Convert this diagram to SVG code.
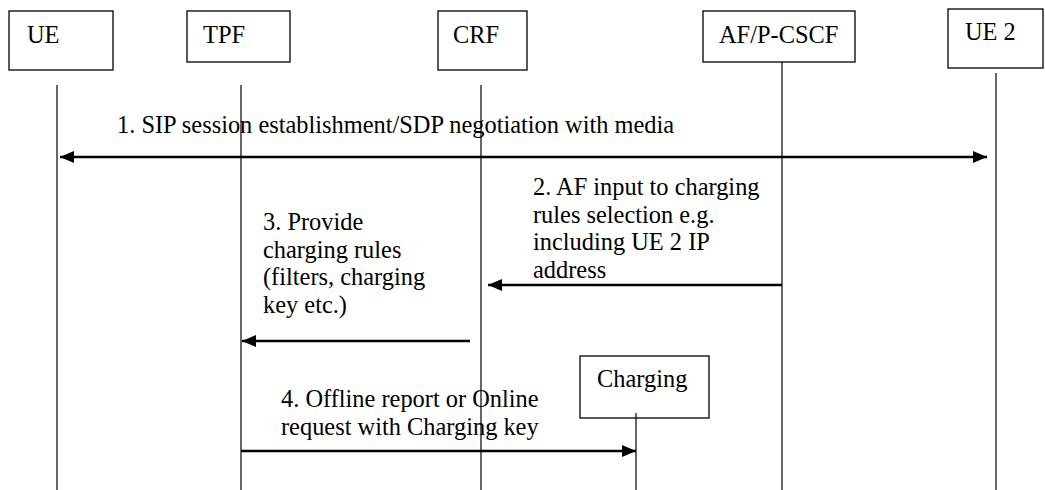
<svg xmlns="http://www.w3.org/2000/svg" width="1045" height="490" viewBox="0 0 1045 490">
<defs>
<marker id="ah" viewBox="0 0 14 12" refX="14" refY="6" markerWidth="14" markerHeight="12" markerUnits="userSpaceOnUse" orient="auto-start-reverse">
<path d="M0,0 L14,6 L0,12 Z" fill="#000"/>
</marker>
<style>
text{font-family:"Liberation Serif","Times New Roman",serif;font-size:24.4px;fill:#000}
.box{fill:#fff;stroke:#000;stroke-width:1.3}
.life{stroke:#000;stroke-width:1.2;fill:none}
.msg{stroke:#000;stroke-width:2.6;fill:none}
</style>
</defs>
<rect width="1045" height="490" fill="#fff"/>
<g id="node-ue">
<rect class="box" x="9" y="11" width="104" height="59"/>
<text x="27" y="43">UE</text>
<line class="life" x1="57" y1="85" x2="57" y2="490"/>
</g>
<g id="node-tpf">
<rect class="box" x="187" y="11" width="103" height="51"/>
<text x="203" y="43">TPF</text>
<line class="life" x1="241" y1="85" x2="241" y2="490"/>
</g>
<g id="node-crf">
<rect class="box" x="438" y="11" width="89" height="59"/>
<text x="453" y="43">CRF</text>
<line class="life" x1="481" y1="85" x2="481" y2="490"/>
</g>
<g id="node-af">
<rect class="box" x="703" y="11" width="152" height="51"/>
<text x="719" y="43">AF/P-CSCF</text>
<line class="life" x1="782" y1="62" x2="782" y2="490"/>
</g>
<g id="node-ue2">
<rect class="box" x="948" y="9" width="95" height="59"/>
<text x="965" y="40">UE 2</text>
<line class="life" x1="996" y1="73" x2="996" y2="490"/>
</g>
<g id="node-charging">
<rect class="box" x="580" y="356" width="129" height="62"/>
<text x="597" y="387">Charging</text>
<line class="life" x1="636" y1="413" x2="636" y2="490"/>
</g>
<g id="connectors">
<line class="msg" x1="60" y1="157" x2="987" y2="157" marker-start="url(#ah)" marker-end="url(#ah)"/>
<line class="msg" x1="782" y1="285" x2="488" y2="285" marker-end="url(#ah)"/>
<line class="msg" x1="470" y1="341" x2="242" y2="341" marker-end="url(#ah)"/>
<line class="msg" x1="241" y1="451" x2="636" y2="451" marker-end="url(#ah)"/>
</g>
<g id="labels">
<text x="117" y="133">1. SIP session establishment/SDP negotiation with media</text>
<text x="533" y="195">2. AF input to charging</text>
<text x="533" y="222.6">rules selection e.g.</text>
<text x="533" y="250.2">including UE 2 IP</text>
<text x="533" y="277.8">address</text>
<text x="263" y="230">3. Provide</text>
<text x="263" y="257.6">charging rules</text>
<text x="263" y="285.2">(filters, charging</text>
<text x="263" y="312.8">key etc.)</text>
<text x="281" y="407">4. Offline report or Online</text>
<text x="281" y="434.6">request with Charging key</text>
</g>
</svg>
